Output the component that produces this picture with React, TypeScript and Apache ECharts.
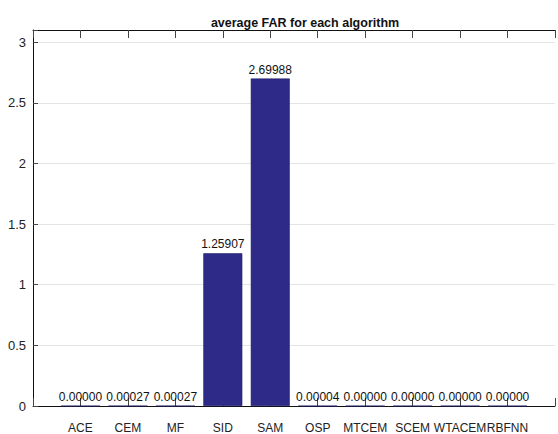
import React, { useEffect, useRef } from "react";
import * as echarts from "echarts";

const categories = ["ACE", "CEM", "MF", "SID", "SAM", "OSP", "MTCEM", "SCEM", "WTACEM", "RBFNN"];
const farValues = [0.0, 0.00027, 0.00027, 1.25907, 2.69988, 0.00004, 0.0, 0.0, 0.0, 0.0];
const yTicks = [0, 0.5, 1, 1.5, 2, 2.5, 3];
const titleText = "average FAR for each algorithm";

const FONT = '"Liberation Sans", Arial, sans-serif';

export default function App() {
  const ref = useRef<HTMLDivElement>(null);
  useEffect(() => {
    if (!ref.current) return;
    const chart = echarts.init(ref.current, undefined, { renderer: "svg" });
    const option: any = {
      animation: false,
      backgroundColor: "#ffffff",
      textStyle: { fontFamily: FONT },
      title: {
        text: titleText,
        left: 300,
        top: 11,
        textAlign: "center",
        textStyle: { fontFamily: FONT, fontSize: 12.5, fontWeight: "bold", color: "#111" },
      },
      grid: { left: 33, top: 30, width: 535.7, height: 376, containLabel: false },
      xAxis: [
        {
          type: "value",
          position: "bottom",
          min: 0,
          max: 11,
          interval: 1,
          axisLine: { show: true, lineStyle: { color: "#111", width: 1 } },
          axisTick: { show: true, inside: true, length: 8, lineStyle: { color: "#444" } },
          splitLine: { show: false },
          axisLabel: {
            margin: 16,
            fontFamily: FONT,
            fontSize: 12,
            color: "#222",
            showMinLabel: true,
            showMaxLabel: true,
            formatter: (v: number) => {
              const i = Math.round(v) - 1;
              return i >= 0 && i < categories.length ? categories[i] : "";
            },
          },
        },
        {
          type: "value",
          position: "top",
          min: 0,
          max: 11,
          interval: 1,
          axisLine: { show: true, lineStyle: { color: "#111", width: 1 } },
          axisTick: { show: true, inside: true, length: 8, lineStyle: { color: "#444" } },
          splitLine: { show: false },
          axisLabel: { show: false },
        },
      ],
      yAxis: {
        type: "value",
        min: 0,
        max: 3.1,
        interval: 0.5,
        axisLine: { show: true, lineStyle: { color: "#111", width: 1 } },
        axisTick: { show: true, inside: true, length: 5, lineStyle: { color: "#444" } },
        splitLine: { show: true, lineStyle: { color: "#e4e4e4", width: 1 } },
        axisLabel: {
          margin: 7,
          fontFamily: FONT,
          fontSize: 13,
          color: "#222",
          formatter: (v: number) => {
            const hit = yTicks.find((t) => Math.abs(t - v) < 1e-9);
            return hit === undefined ? "" : String(hit);
          },
        },
      },
      series: [
        {
          type: "bar",
          xAxisIndex: 0,
          barWidth: 39,
          data: farValues.map((v, i) => [i + 1, v]),
          itemStyle: { color: "#2e2a88", borderColor: "#23206a", borderWidth: 0.6 },
          label: {
            show: true,
            position: "top",
            distance: 3,
            fontFamily: FONT,
            fontSize: 12,
            color: "#111",
            formatter: (p: any) => Number(p.value[1]).toFixed(5),
          },
        },
      ],
    };
    chart.setOption(option);
    return () => chart.dispose();
  }, []);
  return (
    <div
      ref={ref}
      style={{ position: "fixed", left: 0, top: 0, width: 558, height: 434, background: "#fff" }}
    />
  );
}
